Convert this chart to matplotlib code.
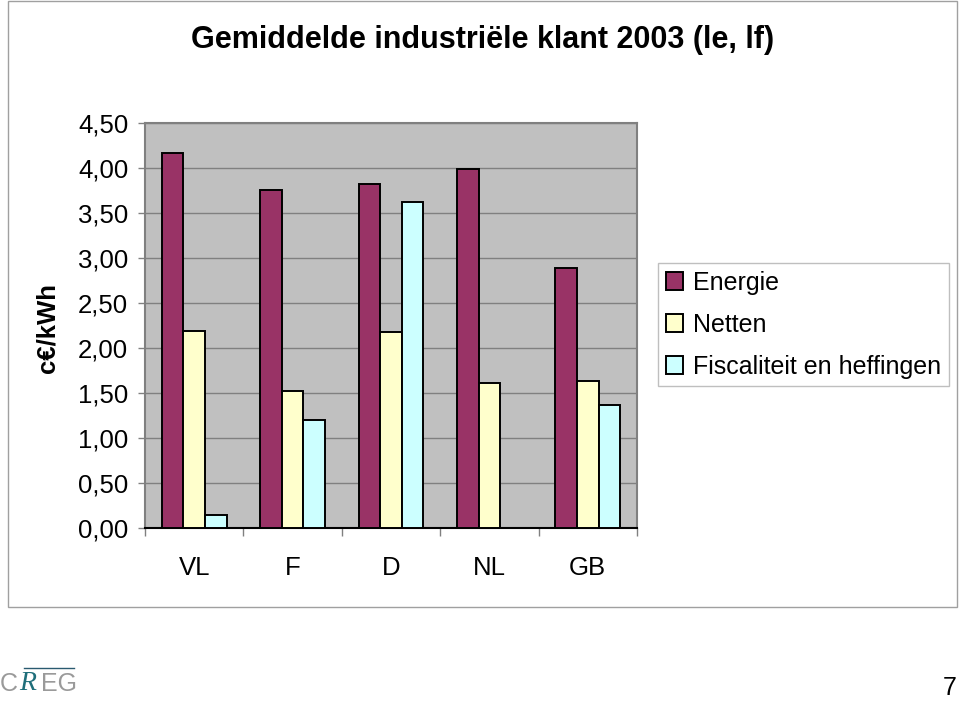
import matplotlib
matplotlib.use("Agg")
import matplotlib.pyplot as plt
from matplotlib.patches import Rectangle
import numpy as np

categories = ["VL", "F", "D", "NL", "GB"]
energie = [4.17, 3.76, 3.82, 3.99, 2.89]
netten = [2.19, 1.52, 2.18, 1.61, 1.63]
fiscaliteit = [0.14, 1.20, 3.62, 0.0, 1.37]
series_names = ["Energie", "Netten", "Fiscaliteit en heffingen"]
colors = ["#993366", "#FFFFCC", "#CCFFFF"]
yticks = [0, 0.5, 1.0, 1.5, 2.0, 2.5, 3.0, 3.5, 4.0, 4.5]
ytick_labels = ["0,00", "0,50", "1,00", "1,50", "2,00", "2,50", "3,00", "3,50", "4,00", "4,50"]

plt.rcParams['font.family'] = ['Liberation Sans', 'DejaVu Sans']

fig = plt.figure(figsize=(9.6, 7.02), dpi=100)
W, H = 960, 702

def fx(px):
    return px / W

def fy(py):
    return 1 - py / H

# outer frame
fig.patches.append(Rectangle((fx(8), fy(607)), fx(957) - fx(8), fy(1) - fy(607),
                             transform=fig.transFigure, fill=False,
                             edgecolor="#A0A0A0", linewidth=1.0))

ax = fig.add_axes([fx(145), fy(528), fx(637) - fx(145), fy(123) - fy(528)])
ax.set_facecolor("#C0C0C0")

x = np.arange(len(categories))
bw = 0.22
for i, (vals, c, name) in enumerate(zip([energie, netten, fiscaliteit], colors, series_names)):
    vv = [v if v > 0 else np.nan for v in vals]
    ax.bar(x + (i - 1) * bw, vv, width=bw, color=c, edgecolor="black",
           linewidth=1.4, label=name, zorder=3)

ax.set_xlim(-0.5, len(categories) - 0.5)
ax.set_ylim(0, 4.5)
ax.set_yticks(yticks)
ax.set_yticklabels(ytick_labels, fontsize=18.5)
ax.yaxis.grid(True, color="#808080", linewidth=1.0, zorder=0)
ax.set_axisbelow(True)
ax.tick_params(axis="y", length=5, width=1, color="#808080", pad=7)

ax.set_xticks(x)
ax.set_xticklabels(categories, fontsize=18.5)
ax.set_xticks(np.arange(-0.5, len(categories)), minor=True)
ax.tick_params(axis="x", which="major", length=0, pad=20)
ax.tick_params(axis="x", which="minor", length=6, width=1, color="#808080")

for s in ["top", "right", "left"]:
    ax.spines[s].set_color("#808080")
    ax.spines[s].set_linewidth(1.5)
ax.spines["bottom"].set_color("black")
ax.spines["bottom"].set_linewidth(1.5)

fig.text(fx(48), fy(328), "c€/kWh", rotation=90, fontsize=18.5, fontweight="bold",
         ha="center", va="center")

fig.text(fx(483), fy(40), "Gemiddelde industriële klant 2003 (le, lf)",
         fontsize=22, fontweight="bold", ha="center", va="center")

leg = fig.legend(loc="upper left", bbox_to_anchor=(fx(658), fy(263)),
                 fontsize=18, frameon=True, fancybox=False, handlelength=0.7,
                 handleheight=0.7, handletextpad=0.4, labelspacing=0.72,
                 borderpad=0.3, borderaxespad=0)
leg.get_frame().set_edgecolor("#B0B0B0")
leg.get_frame().set_linewidth(1.0)

# logo
fig.text(fx(0), fy(684), "C", fontsize=18, color="#9A9A9A", ha="left", va="center")
fig.text(fx(19), fy(683), "R", fontsize=20, color="#1E6E7A", style="italic",
         ha="left", va="center", family=['Liberation Serif', 'DejaVu Serif'])
fig.text(fx(41), fy(684), "EG", fontsize=18, color="#9A9A9A", ha="left", va="center")
fig.lines.append(plt.Line2D([fx(24), fx(74)], [fy(668), fy(668)],
                            transform=fig.transFigure, color="#2A5A70", linewidth=1.0))

fig.text(fx(950), fy(688), "7", fontsize=18, ha="center", va="center")

fig.savefig("out.png", dpi=100)
